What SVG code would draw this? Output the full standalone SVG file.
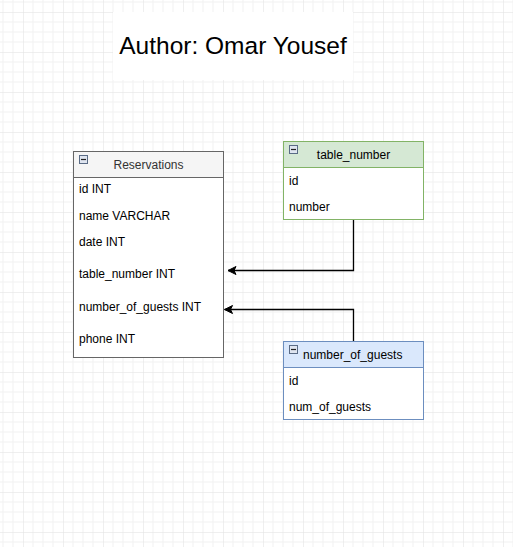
<svg xmlns="http://www.w3.org/2000/svg" width="513" height="547" viewBox="0 0 513 547">
<defs>
<pattern id="grid" patternUnits="userSpaceOnUse" x="23" y="12" width="40" height="40">
<path d="M10 0V40M20 0V40M30 0V40M0 10H40M0 20H40M0 30H40" stroke="#f1f1f1" stroke-width="1" fill="none"/>
<path d="M0 0V40M0 0H40" stroke="#e0e0e0" stroke-width="1" fill="none"/>
</pattern>
<marker id="arr" markerWidth="10" markerHeight="10" refX="9" refY="5" orient="auto" markerUnits="userSpaceOnUse">
<path d="M9 5L1 1L3 5L1 9Z" fill="#000" stroke="#000" stroke-width="1"/>
</marker>
<g id="minus">
<rect x="0.5" y="0.5" width="8" height="8" fill="#dfe5f0" stroke="#5a6b85" stroke-width="1"/>
<path d="M2 4.5H7" stroke="#222" stroke-width="1.2"/>
</g>
</defs>
<style>
.t{font-family:"Liberation Sans",Arial,Helvetica,sans-serif;font-size:12px;fill:#000}
.h{font-family:"Liberation Sans",Arial,Helvetica,sans-serif;font-size:12px;fill:#333;text-anchor:middle}
.title{font-family:"Liberation Sans",Arial,Helvetica,sans-serif;font-size:24.5px;fill:#000;text-anchor:middle}
.edge{fill:none;stroke:#000;stroke-width:1.3}
</style>
<rect width="513" height="547" fill="#fff"/>
<rect width="513" height="547" fill="url(#grid)"/>

<g id="title">
<rect x="113" y="12" width="240" height="68" fill="#fff"/>
<text class="title" x="233" y="54">Author: Omar Yousef</text>
</g>

<g id="edges">
<path class="edge" d="M353.5 219.5V270.5H228" marker-end="url(#arr)"/>
<path class="edge" d="M353.5 342V309.5H224.5" marker-end="url(#arr)"/>
</g>

<g id="reservations">
<rect x="73.5" y="151.5" width="150" height="206" fill="#fff" stroke="#666" stroke-width="1"/>
<rect x="73.5" y="151.5" width="150" height="26" fill="#f5f5f5" stroke="#666" stroke-width="1"/>
<use href="#minus" x="79" y="155"/>
<text class="h" x="148.5" y="169">Reservations</text>
<text class="t" x="79" y="193">id INT</text>
<text class="t" x="79" y="220">name VARCHAR</text>
<text class="t" x="79" y="246">date INT</text>
<text class="t" x="79" y="278">table_number INT</text>
<text class="t" x="79" y="311">number_of_guests INT</text>
<text class="t" x="79" y="343">phone INT</text>
</g>

<g id="table_number">
<rect x="283.5" y="141.5" width="140" height="78" fill="#fff" stroke="#82b366" stroke-width="1"/>
<rect x="283.5" y="141.5" width="140" height="26" fill="#d5e8d4" stroke="#82b366" stroke-width="1"/>
<use href="#minus" x="289" y="145"/>
<text class="t" x="353.5" y="159" text-anchor="middle">table_number</text>
<text class="t" x="289" y="185">id</text>
<text class="t" x="289" y="211">number</text>
</g>

<g id="number_of_guests">
<rect x="283.5" y="341.5" width="140" height="78" fill="#fff" stroke="#6c8ebf" stroke-width="1"/>
<rect x="283.5" y="341.5" width="140" height="26" fill="#dae8fc" stroke="#6c8ebf" stroke-width="1"/>
<use href="#minus" x="289" y="345"/>
<text class="t" x="303" y="359">number_of_guests</text>
<text class="t" x="289" y="385">id</text>
<text class="t" x="289" y="411">num_of_guests</text>
</g>
</svg>
